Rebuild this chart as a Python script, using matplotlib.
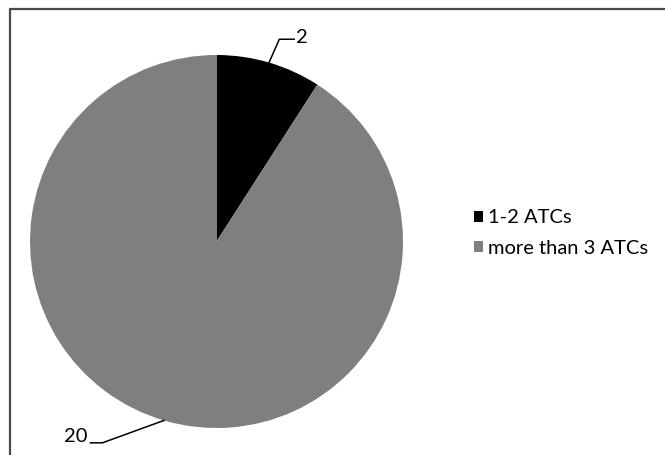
import numpy as np
import matplotlib
matplotlib.use('Agg')
import matplotlib.pyplot as plt
from matplotlib.patches import Patch

plt.rcParams['font.family'] = ['Lato', 'DejaVu Sans']

categorias = ['1-2 ATCs', 'more than 3 ATCs']
valores = [2, 20]
cores = ['#000000', '#7f7f7f']

fig = plt.figure(figsize=(6.65, 4.55), dpi=100)
fig.patch.set_facecolor('white')

# moldura (só topo e esquerda aparecem dentro da imagem)
borda = fig.add_axes([0, 0, 1, 1], facecolor='none')
borda.set_xlim(0, 665)
borda.set_ylim(455, 0)
borda.axis('off')
borda.plot([10, 10, 665], [455, 8.5, 8.5], color='#4a4a4a', lw=1.6)

ax = fig.add_axes([30 / 665, 27 / 455, 373 / 665, 373 / 455])
wedges, _ = ax.pie(valores, colors=cores, startangle=90, counterclock=False,
                   radius=1, wedgeprops=dict(linewidth=0))
ax.set_xlim(-1, 1)
ax.set_ylim(-1, 1)
ax.set_aspect('equal')
ax.axis('off')

# rótulos com linha de chamada: (cotovelo, trecho horizontal, deslocamento do texto)
offsets = [((0.055, 0.125), 0.08, (0.012, 0.01)),
           ((-0.33, -0.12), -0.064, (-0.015, 0.032))]
for w, v, (d1, d2, dt) in zip(wedges, valores, offsets):
    ang = np.deg2rad((w.theta1 + w.theta2) / 2)
    x0, y0 = np.cos(ang), np.sin(ang)
    x1, y1 = x0 + d1[0], y0 + d1[1]
    x2, y2 = x1 + d2, y1
    ax.plot([x0, x1, x2], [y0, y1, y2], color='black', lw=1.1, clip_on=False)
    ha = 'left' if d2 > 0 else 'right'
    ax.text(x2 + dt[0], y2 + dt[1], str(v),
            ha=ha, va='center', fontsize=14.5, clip_on=False)

handles = [Patch(facecolor=c, edgecolor='none') for c in cores]
fig.legend(handles, categorias, loc='center left',
           bbox_to_anchor=(456 / 665, 1 - 233 / 455), frameon=False,
           fontsize=14.5, handlelength=0.45, handleheight=0.45,
           handletextpad=0.25, labelspacing=0.65)

fig.savefig('out.png', dpi=100, facecolor='white')
